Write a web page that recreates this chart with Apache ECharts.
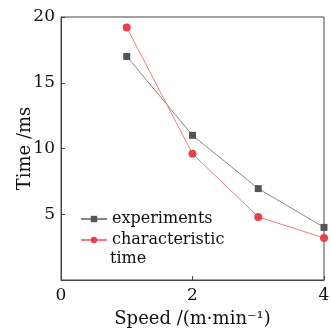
<!DOCTYPE html>
<html><head><meta charset="utf-8">
<script src="https://cdn.jsdelivr.net/npm/echarts@6/dist/echarts.min.js"></script>
<style>html,body{margin:0;padding:0;background:#fff}#c{width:331px;height:333px}</style>
</head><body><div id="c"></div>
<script>
const speeds = [1, 2, 3, 4];
const experiments = [17.0, 11.0, 6.95, 4.0];
const characteristic = [19.2, 9.6, 4.8, 3.2];
const xTicks = [0, 2, 4];
const yTicks = [5, 10, 15, 20];

const font = 'DejaVu Serif';
const chart = echarts.init(document.getElementById('c'), null, {renderer: 'canvas'});
chart.setOption({
  animation: false,
  textStyle: {fontFamily: font},
  grid: {left: 61, right: 7, top: 17, bottom: 53, show: true, borderColor: '#444', borderWidth: 1,
         outerBoundsMode: 'none', containLabel: false},
  legend: {
    orient: 'vertical', left: 75, top: 209, itemGap: 1, itemWidth: 26, itemHeight: 8, padding: [0, 5],
    textStyle: {fontFamily: font, fontSize: 16, color: '#111', lineHeight: 20},
    data: ['experiments', 'characteristic time'],
    formatter: n => n === 'characteristic time' ? 'characteristic' : n
  },
  graphic: [{
    type: 'text', left: 110, top: 251,
    style: {text: 'time', font: '16px "DejaVu Serif"', fill: '#111'}
  }],
  xAxis: {
    type: 'value', min: 0, max: 4, interval: 2,
    name: 'Speed /(m\u00b7min\u207b\u00b9)', nameLocation: 'middle', nameGap: 30, nameMoveOverlap: false,
    nameTextStyle: {fontFamily: font, fontSize: 18, color: '#111'},
    axisLine: {lineStyle: {color: '#444'}},
    axisTick: {inside: true, length: 4, lineStyle: {color: '#444'}},
    axisLabel: {fontFamily: font, fontSize: 17, color: '#111', margin: 7},
    splitLine: {show: false}
  },
  yAxis: {
    type: 'value', min: 0, max: 20, interval: 5,
    name: 'Time /ms', nameLocation: 'middle', nameGap: 27, nameMoveOverlap: false,
    nameTextStyle: {fontFamily: font, fontSize: 18, color: '#111'},
    axisLine: {show: true, lineStyle: {color: '#444'}},
    axisTick: {inside: true, length: 4, lineStyle: {color: '#444'}},
    axisLabel: {fontFamily: font, fontSize: 17, color: '#111', margin: 6, showMinLabel: false},
    splitLine: {show: false}
  },
  series: [
    {
      name: 'experiments', type: 'line', data: speeds.map((s, i) => [s, experiments[i]]),
      symbol: 'rect', symbolSize: 7,
      itemStyle: {color: '#555'}, lineStyle: {color: '#888', width: 1}
    },
    {
      name: 'characteristic time', type: 'line', data: speeds.map((s, i) => [s, characteristic[i]]),
      symbol: 'circle', symbolSize: 8,
      itemStyle: {color: '#e8414b'}, lineStyle: {color: '#f27b7b', width: 1}
    }
  ]
});
</script></body></html>
